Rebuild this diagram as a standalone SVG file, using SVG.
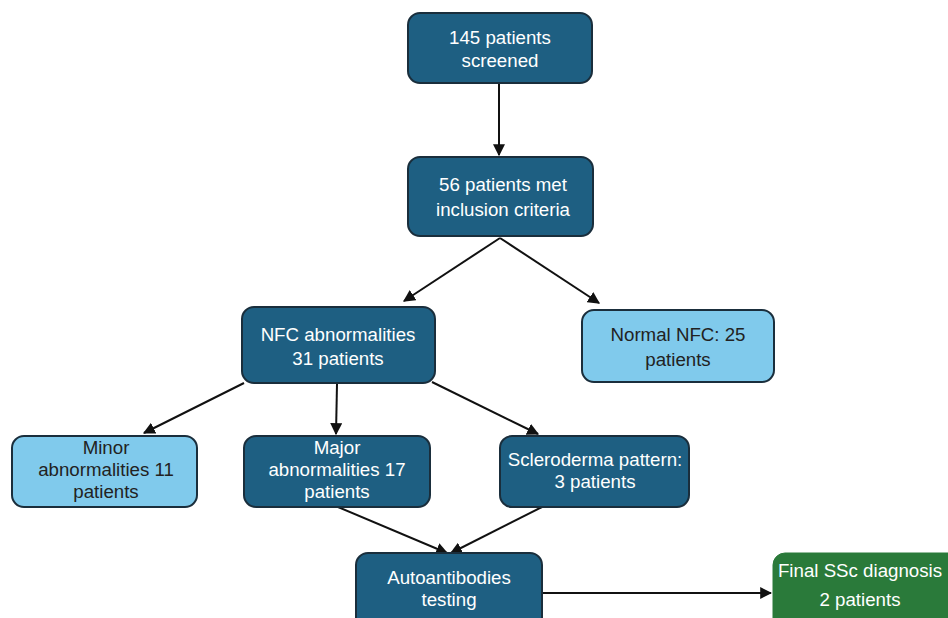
<svg xmlns="http://www.w3.org/2000/svg" width="948" height="618" viewBox="0 0 948 618">
<style>
.dark{fill:#1e5f82;stroke:#1a2e3c;stroke-width:2}
.light{fill:#80caec;stroke:#1a2e3c;stroke-width:2}
.green{fill:#2a7a3a;stroke:#2a7a3a;stroke-width:1}
text{font-family:"Liberation Sans",Arial,sans-serif;font-size:18.7px;text-anchor:middle}
.w{fill:#ffffff}
.k{fill:#222222}
.c{stroke:#111;stroke-width:2;fill:none;marker-end:url(#ah)}
</style>
<defs>
<marker id="ah" viewBox="0 0 10 10" refX="9" refY="5" markerWidth="6" markerHeight="6" orient="auto" markerUnits="strokeWidth">
<path d="M0,0 L10,5 L0,10 z" fill="#111"/>
</marker>
</defs>
<rect width="948" height="618" fill="#ffffff"/>
<g id="connectors">
<line class="c" x1="499" y1="84" x2="499" y2="155"/>
<line class="c" x1="500" y1="238" x2="404" y2="301"/>
<line class="c" x1="500" y1="238" x2="599" y2="303"/>
<line class="c" x1="244" y1="383" x2="144" y2="433"/>
<line class="c" x1="337" y1="384" x2="336" y2="434"/>
<line class="c" x1="432" y1="382" x2="538" y2="434"/>
<line class="c" x1="338" y1="507" x2="447" y2="553"/>
<line class="c" x1="542" y1="507" x2="451" y2="553"/>
<line class="c" x1="543" y1="593" x2="771" y2="593"/>
</g>
<g id="n1">
<rect class="dark" x="408" y="13" width="184" height="70" rx="12"/>
<text class="w" x="500" y="44">145 patients</text>
<text class="w" x="500" y="67">screened</text>
</g>
<g id="n2">
<rect class="dark" x="408" y="157" width="185" height="79" rx="12"/>
<text class="w" x="503" y="191">56 patients met</text>
<text class="w" x="503" y="216">inclusion criteria</text>
</g>
<g id="n3">
<rect class="dark" x="242" y="307" width="193" height="76" rx="12"/>
<text class="w" x="338" y="341">NFC abnormalities</text>
<text class="w" x="338" y="365">31 patients</text>
</g>
<g id="n4">
<rect class="light" x="582" y="310" width="192" height="72" rx="12"/>
<text class="k" x="678" y="341">Normal NFC: 25</text>
<text class="k" x="678" y="366">patients</text>
</g>
<g id="n5">
<rect class="light" x="12" y="436" width="185" height="71" rx="12"/>
<text class="k" x="106" y="454">Minor</text>
<text class="k" x="106" y="476">abnormalities 11</text>
<text class="k" x="106" y="498">patients</text>
</g>
<g id="n6">
<rect class="dark" x="244" y="436" width="186" height="71" rx="12"/>
<text class="w" x="337" y="454">Major</text>
<text class="w" x="337" y="476">abnormalities 17</text>
<text class="w" x="337" y="498">patients</text>
</g>
<g id="n7">
<rect class="dark" x="500" y="436" width="189" height="71" rx="12"/>
<text class="w" x="595" y="466">Scleroderma pattern:</text>
<text class="w" x="595" y="488">3 patients</text>
</g>
<g id="n8">
<rect class="dark" x="356" y="553" width="186" height="80" rx="12"/>
<text class="w" x="449" y="584">Autoantibodies</text>
<text class="w" x="449" y="606">testing</text>
</g>
<g id="n9">
<rect class="green" x="773" y="553" width="190" height="80" rx="12"/>
<text class="w" x="860" y="577">Final SSc diagnosis</text>
<text class="w" x="860" y="606">2 patients</text>
</g>
</svg>
